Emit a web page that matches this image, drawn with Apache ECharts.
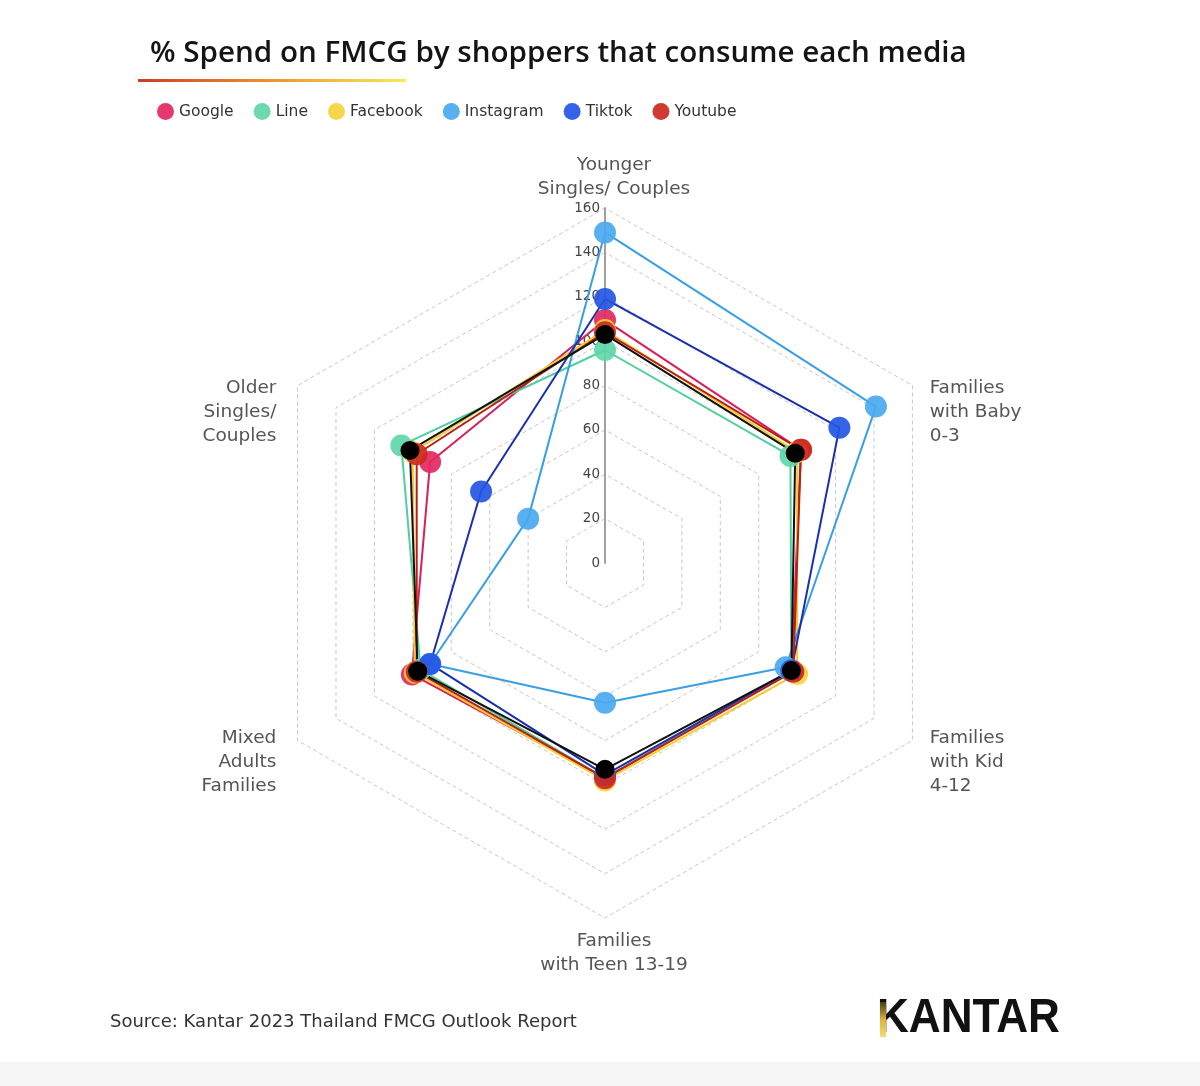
<!DOCTYPE html>
<html>
<head>
<meta charset="utf-8">
<script src="https://cdn.jsdelivr.net/npm/echarts@6/dist/echarts.min.js"></script>
<style>
html,body{margin:0;padding:0;background:#fff;}
#chart{width:1200px;height:1086px;}
</style>
</head>
<body>
<div id="chart"></div>
<script>
// Axes, counter-clockwise from the top
const categories = [
  'Younger\nSingles/ Couples',
  'Older\nSingles/\nCouples',
  'Mixed\nAdults\nFamilies',
  'Families\nwith Teen 13-19',
  'Families\nwith Kid\n4-12',
  'Families\nwith Baby\n0-3'
];
const tickMax = 160;
const tickStep = 20;

const seriesNames = ['Google', 'Line', 'Facebook', 'Instagram', 'Tiktok', 'Youtube'];
const google    = [109.5, 91, 100.5, 97, 97, 102];
const line      = [96, 106, 96, 97, 97, 96.5];
const facebook  = [105, 100, 99, 98, 100, 100];
const instagram = [149, 40, 91, 63, 94, 141];
const tiktok    = [119, 64.5, 91, 95.5, 97, 122];
const youtube   = [104, 98, 98, 97, 98, 102];
const total     = [103, 101.5, 97.5, 93, 97, 99];

const dotColors  = ['#e3275f', '#5fd6a9', '#f6d23f', '#4aa9ef', '#2456e4', '#cc2a1f'];
const lineColors = ['#d81f57', '#4fcf9f', '#f3cc2e', '#3a9fe2', '#1a2fae', '#b81e14'];
const values = [google, line, facebook, instagram, tiktok, youtube];

const chart = echarts.init(document.getElementById('chart'), null, {renderer: 'canvas'});

const upper = ['Older\nSingles/\nCouples', 'Families\nwith Baby\n0-3'];
const lower = ['Mixed\nAdults\nFamilies', 'Families\nwith Kid\n4-12'];
const rightSide = ['Families\nwith Baby\n0-3', 'Families\nwith Kid\n4-12'];
const leftSide = ['Older\nSingles/\nCouples', 'Mixed\nAdults\nFamilies'];
const bottomName = 'Families\nwith Teen 13-19';

function fmtName(name) {
  const lines = name.split('\n');
  let style = 't';
  if (rightSide.indexOf(name) >= 0) style = 'r';
  if (leftSide.indexOf(name) >= 0) style = 'l';
  let out = lines.map(s => '{' + style + '|' + s + '}').join('\n');
  if (upper.indexOf(name) >= 0) out = '{sp1| }\n' + out;
  if (lower.indexOf(name) >= 0) out = '{sp2| }\n' + out;
  if (name === bottomName) out = '{sp3| }\n' + out;
  return out;
}

const indicator = categories.map((c, i) => {
  const o = {name: c, min: 0, max: tickMax};
  if (i === 0) {
    o.axisLabel = {show: true};
    o.axisLine = {show: true, lineStyle: {color: '#a0a0a0', width: 2}};
  }
  return o;
});

const series = [{
  type: 'radar',
  symbol: 'circle',
  data: values.map((v, i) => ({
    name: seriesNames[i],
    value: v,
    symbolSize: 22,
    lineStyle: {color: lineColors[i], width: 2},
    itemStyle: {color: dotColors[i], opacity: 0.92}
  })).concat([{
    name: 'Total',
    value: total,
    symbolSize: 19,
    lineStyle: {color: '#111', width: 2},
    itemStyle: {color: '#000'}
  }])
}];

const nameFont = 'DejaVu Sans';
const option = {
  backgroundColor: '#ffffff',
  animation: false,
  color: dotColors,
  legend: {
    data: seriesNames.map((n, i) => ({name: n, itemStyle: {color: dotColors[i]}})),
    left: 152, top: 98,
    icon: 'circle',
    itemWidth: 17, itemHeight: 17,
    itemGap: 20,
    textStyle: {fontFamily: nameFont, fontSize: 15.5, color: '#333'}
  },
  radar: {
    center: [605, 563],
    radius: 355,
    startAngle: 90,
    shape: 'polygon',
    splitNumber: tickMax / tickStep,
    nameGap: 6,
    indicator: indicator,
    axisName: {
      formatter: fmtName,
      color: '#555',
      fontFamily: nameFont,
      fontSize: 18.5,
      lineHeight: 24,
      rich: {
        t: {fontFamily: nameFont, fontSize: 18.5, lineHeight: 24, color: '#555', padding: [0, 0, 0, 18]},
        r: {fontFamily: nameFont, fontSize: 18.5, lineHeight: 24, color: '#555', padding: [0, 0, 0, 12]},
        l: {fontFamily: nameFont, fontSize: 18.5, lineHeight: 24, color: '#555', padding: [0, 16, 0, 0]},
        sp1: {fontSize: 1, lineHeight: 59},
        sp2: {fontSize: 1, lineHeight: 37},
        sp3: {fontSize: 1, lineHeight: 5}
      }
    },
    axisLine: {show: false},
    axisTick: {show: false},
    axisLabel: {show: false, color: '#444', fontFamily: nameFont, fontSize: 13.5, margin: 5, showMinLabel: true, showMaxLabel: true},
    splitLine: {lineStyle: {color: '#c8c8c8', width: 1, type: [4, 3]}},
    splitArea: {show: false}
  },
  series: series,
  graphic: [
    {type: 'text', left: 150, top: 39,
      style: {text: '% Spend on FMCG by shoppers that consume each media', fontFamily: 'Open Sans', fontWeight: 600, fontSize: 29.6, fill: '#141414'}},
    {type: 'rect', shape: {x: 138, y: 79, width: 268, height: 3},
      style: {fill: new echarts.graphic.LinearGradient(0, 0, 1, 0, [
        {offset: 0, color: '#cf3a2a'}, {offset: 0.45, color: '#ee8a2b'}, {offset: 1, color: '#f7ec52'}])}},
    {type: 'text', left: 110, top: 1013,
      style: {text: 'Source: Kantar 2023 Thailand FMCG Outlook Report', fontFamily: nameFont, fontSize: 18, fill: '#333'}},
    {type: 'text', x: 877, y: 994, scaleX: 0.9,
      style: {text: 'KANTAR', fontFamily: 'Liberation Sans', fontWeight: 'bold', fontSize: 49, fill: '#111'}},
    {type: 'rect', shape: {x: 880, y: 1002, width: 6, height: 35},
      style: {fill: new echarts.graphic.LinearGradient(0, 0, 0, 1, [
        {offset: 0, color: '#4a3b10'}, {offset: 0.5, color: '#d8b340'}, {offset: 1, color: '#f1dc7a'}])}},
    {type: 'rect', shape: {x: 0, y: 1062, width: 1200, height: 24}, style: {fill: '#f6f6f6'}}
  ]
};
chart.setOption(option);
</script>
</body>
</html>
